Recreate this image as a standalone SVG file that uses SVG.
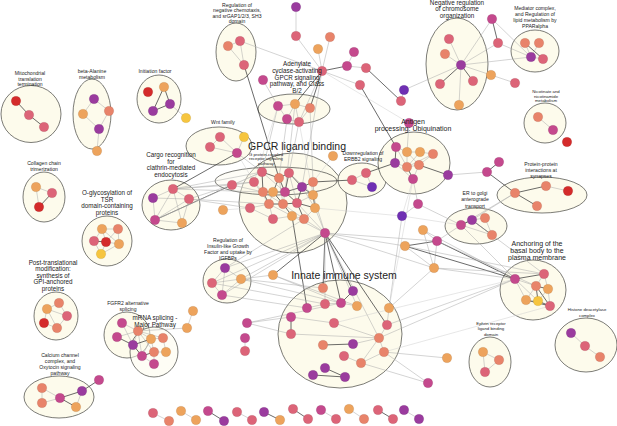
<svg xmlns="http://www.w3.org/2000/svg" width="617" height="426" viewBox="0 0 617 426">
<style>
.cl{fill:#fdfbec;stroke:#5a5a55;stroke-width:0.8}
.e{stroke:#a8a8a8;stroke-width:0.5}
.l{stroke:#cfcfcf;stroke-width:0.5}
.d{stroke:#3a3a3a;stroke-width:0.75}
circle{stroke:#000;stroke-opacity:0.18;stroke-width:0.4}
.r{fill:#d42b2b}.p{fill:#dc6478}.s{fill:#e8836a}.o{fill:#eda35c}.y{fill:#f6c53f}.m{fill:#c4498d}.u{fill:#9a3b9e}.v{fill:#6f2fb3}
text{font-family:"Liberation Sans",Arial,sans-serif;fill:#222;text-anchor:middle}
.f4{font-size:4.3px}.f5{font-size:5.1px}.f6{font-size:6.3px}.f7{font-size:7px}.f10{font-size:10.5px}
</style>
<rect width="617" height="426" fill="#fff"/>
<g id="cluster-areas">
<ellipse id="a-mito" class="cl" cx="31" cy="114" rx="30" ry="28.5"/>
<ellipse id="a-beta" class="cl" cx="92" cy="114" rx="19" ry="35"/>
<ellipse id="a-init" class="cl" cx="159" cy="99" rx="22" ry="24"/>
<ellipse id="a-coll" class="cl" cx="44" cy="197" rx="21" ry="25"/>
<ellipse id="a-oglyc" class="cl" cx="107" cy="241" rx="25" ry="25"/>
<ellipse id="a-cargo" class="cl" cx="171" cy="205" rx="29" ry="25"/>
<ellipse id="a-wnt" class="cl" cx="219" cy="146" rx="33" ry="19"/>
<ellipse id="a-chemo" class="cl" cx="236" cy="52" rx="20" ry="29"/>
<ellipse id="a-adcy" class="cl" cx="294" cy="109" rx="36" ry="15"/>
<ellipse id="a-gpcr" class="cl" cx="293" cy="203" rx="54" ry="50"/>
<ellipse id="a-gprot" class="cl" cx="276" cy="181" rx="61" ry="14" fill-opacity="0.4"/>
<ellipse id="a-erbb2" class="cl" cx="362" cy="180" rx="24" ry="17"/>
<ellipse id="a-antigen" class="cl" cx="414" cy="163" rx="36" ry="31"/>
<ellipse id="a-chrom" class="cl" cx="457" cy="64" rx="31" ry="46"/>
<ellipse id="a-med" class="cl" cx="535" cy="51" rx="24" ry="21"/>
<ellipse id="a-nico" class="cl" cx="545" cy="123" rx="21" ry="20"/>
<ellipse id="a-ppi" class="cl" cx="542" cy="195" rx="45" ry="18"/>
<ellipse id="a-er" class="cl" cx="476" cy="226" rx="31" ry="18"/>
<ellipse id="a-anch" class="cl" cx="533" cy="290" rx="33" ry="30"/>
<ellipse id="a-hdac" class="cl" cx="586" cy="345" rx="31" ry="27"/>
<ellipse id="a-eph" class="cl" cx="490" cy="362" rx="21" ry="25"/>
<ellipse id="a-innate" class="cl" cx="340" cy="334" rx="62" ry="54"/>
<ellipse id="a-igf" class="cl" cx="227" cy="281" rx="24" ry="22"/>
<ellipse id="a-gpi" class="cl" cx="56" cy="316" rx="22" ry="24"/>
<ellipse id="a-fgfr" class="cl" cx="127" cy="335" rx="23" ry="23"/>
<ellipse id="a-mrna" class="cl" cx="154" cy="352" rx="24" ry="25" fill-opacity="0.5"/>
<ellipse id="a-calc" class="cl" cx="59" cy="397" rx="35" ry="21"/>
</g>
<g id="connectors">
<!-- mito -->
<line class="d" x1="16" y1="101" x2="29" y2="115"/><line class="d" x1="29" y1="115" x2="44" y2="127"/>
<!-- beta -->
<line class="e" x1="94" y1="99" x2="83" y2="114"/><line class="e" x1="94" y1="99" x2="109" y2="111"/><line class="e" x1="83" y1="114" x2="99" y2="129"/><line class="e" x1="109" y1="111" x2="99" y2="129"/><line class="e" x1="99" y1="129" x2="97" y2="151"/>
<!-- init -->
<line class="d" x1="164" y1="87" x2="170" y2="104"/><line class="d" x1="164" y1="87" x2="153" y2="111"/><line class="d" x1="153" y1="111" x2="170" y2="104"/><line class="e" x1="170" y1="104" x2="186" y2="118"/>
<!-- collagen -->
<line class="e" x1="36" y1="187" x2="52" y2="193"/><line class="e" x1="36" y1="187" x2="39" y2="207"/><line class="d" x1="52" y1="193" x2="39" y2="207"/>
<!-- oglyc -->
<line class="e" x1="102" y1="229" x2="118" y2="229"/><line class="e" x1="102" y1="229" x2="94" y2="241"/><line class="e" x1="102" y1="229" x2="106" y2="242"/><line class="e" x1="118" y1="229" x2="106" y2="242"/><line class="e" x1="118" y1="229" x2="119" y2="244"/><line class="d" x1="94" y1="241" x2="106" y2="242"/><line class="e" x1="106" y1="242" x2="119" y2="244"/><line class="e" x1="94" y1="241" x2="101" y2="254"/><line class="e" x1="106" y1="242" x2="101" y2="254"/><line class="e" x1="119" y1="244" x2="101" y2="254"/><line class="e" x1="102" y1="229" x2="119" y2="244"/>
<!-- cargo -->
<line class="e" x1="173" y1="189" x2="153" y2="198"/><line class="e" x1="173" y1="189" x2="189" y2="199"/><line class="e" x1="173" y1="189" x2="155" y2="220"/><line class="e" x1="173" y1="189" x2="182" y2="223"/><line class="e" x1="153" y1="198" x2="155" y2="220"/><line class="e" x1="189" y1="199" x2="155" y2="220"/><line class="e" x1="189" y1="199" x2="182" y2="223"/><line class="e" x1="155" y1="220" x2="182" y2="223"/><line class="e" x1="153" y1="198" x2="189" y2="199"/>
<line class="d" x1="173" y1="189" x2="237" y2="153"/><line class="d" x1="155" y1="220" x2="232" y2="185"/>
<line class="e" x1="173" y1="189" x2="232" y2="185"/><line class="e" x1="173" y1="189" x2="254" y2="182"/><line class="e" x1="173" y1="189" x2="263" y2="192"/><line class="e" x1="173" y1="189" x2="262" y2="172"/><line class="e" x1="189" y1="199" x2="232" y2="185"/><line class="e" x1="189" y1="199" x2="250" y2="208"/><line class="e" x1="189" y1="199" x2="269" y2="204"/><line class="l" x1="155" y1="220" x2="262" y2="172"/>
<!-- wnt -->
<line class="e" x1="220" y1="137" x2="237" y2="153"/><line class="e" x1="210" y1="147" x2="237" y2="153"/><line class="e" x1="244" y1="137" x2="237" y2="153"/><line class="e" x1="220" y1="137" x2="210" y2="147"/><line class="e" x1="237" y1="153" x2="262" y2="172"/><line class="l" x1="237" y1="153" x2="254" y2="182"/>
<!-- chemotaxis -->
<line class="e" x1="228" y1="46" x2="240" y2="41"/><line class="e" x1="228" y1="46" x2="244" y2="65"/><line class="e" x1="240" y1="41" x2="244" y2="65"/><line class="e" x1="240" y1="41" x2="322" y2="71"/><line class="d" x1="244" y1="65" x2="279" y2="178"/>
<!-- adenylate -->
<line class="e" x1="278" y1="106" x2="295" y2="104"/><line class="e" x1="295" y1="104" x2="310" y2="108"/><line class="e" x1="278" y1="106" x2="287" y2="119"/><line class="e" x1="287" y1="119" x2="299" y2="122"/><line class="e" x1="295" y1="104" x2="287" y2="119"/><line class="e" x1="295" y1="104" x2="299" y2="122"/><line class="e" x1="310" y1="108" x2="299" y2="122"/><line class="e" x1="263" y1="80" x2="278" y2="106"/>
<line class="d" x1="322" y1="71" x2="295" y2="104"/><line class="d" x1="322" y1="71" x2="310" y2="108"/><line class="e" x1="322" y1="71" x2="299" y2="122"/>
<line class="e" x1="278" y1="106" x2="262" y2="172"/><line class="e" x1="287" y1="119" x2="279" y2="178"/><line class="e" x1="299" y1="122" x2="289" y2="173"/><line class="e" x1="310" y1="108" x2="313" y2="182"/><line class="e" x1="295" y1="104" x2="285" y2="192"/><line class="e" x1="322" y1="71" x2="302" y2="187"/><line class="l" x1="278" y1="106" x2="254" y2="182"/><line class="l" x1="299" y1="122" x2="313" y2="195"/>
<!-- top hub -->
<line class="e" x1="296" y1="7" x2="296" y2="36"/><line class="e" x1="296" y1="36" x2="322" y2="71"/><line class="e" x1="330" y1="37" x2="322" y2="71"/><line class="e" x1="318" y1="49" x2="322" y2="71"/><line class="d" x1="322" y1="71" x2="347" y2="66"/><line class="e" x1="347" y1="66" x2="354" y2="52"/><line class="e" x1="347" y1="66" x2="366" y2="68"/><line class="d" x1="366" y1="68" x2="401" y2="101"/><line class="e" x1="401" y1="101" x2="404" y2="90"/><line class="e" x1="322" y1="71" x2="360" y2="85"/><line class="d" x1="360" y1="85" x2="396" y2="147"/><line class="l" x1="322" y1="71" x2="409" y2="123"/>
<!-- gpcr internal -->
<line class="e" x1="232" y1="185" x2="254" y2="182"/><line class="e" x1="232" y1="185" x2="263" y2="192"/><line class="e" x1="232" y1="185" x2="262" y2="172"/>
<line class="d" x1="262" y1="172" x2="279" y2="178"/><line class="d" x1="262" y1="172" x2="263" y2="192"/><line class="e" x1="254" y1="182" x2="263" y2="192"/><line class="d" x1="279" y1="178" x2="289" y2="173"/><line class="d" x1="279" y1="178" x2="273" y2="192"/><line class="d" x1="279" y1="178" x2="285" y2="192"/><line class="d" x1="289" y1="173" x2="285" y2="192"/><line class="d" x1="289" y1="173" x2="302" y2="187"/><line class="d" x1="313" y1="182" x2="302" y2="187"/><line class="e" x1="313" y1="182" x2="313" y2="195"/><line class="d" x1="263" y1="192" x2="273" y2="192"/><line class="d" x1="263" y1="192" x2="269" y2="204"/><line class="d" x1="273" y1="192" x2="285" y2="192"/><line class="d" x1="273" y1="192" x2="283" y2="204"/><line class="d" x1="285" y1="192" x2="302" y2="187"/><line class="d" x1="285" y1="192" x2="297" y2="203"/><line class="d" x1="302" y1="187" x2="313" y2="195"/><line class="d" x1="302" y1="187" x2="297" y2="203"/><line class="d" x1="313" y1="195" x2="315" y2="208"/><line class="d" x1="269" y1="204" x2="283" y2="204"/><line class="e" x1="269" y1="204" x2="273" y2="219"/><line class="d" x1="283" y1="204" x2="297" y2="203"/><line class="d" x1="283" y1="204" x2="292" y2="216"/><line class="d" x1="297" y1="203" x2="315" y2="208"/><line class="d" x1="297" y1="203" x2="304" y2="219"/><line class="e" x1="315" y1="208" x2="304" y2="219"/><line class="e" x1="273" y1="219" x2="292" y2="216"/><line class="e" x1="292" y1="216" x2="304" y2="219"/><line class="e" x1="273" y1="192" x2="269" y2="204"/><line class="e" x1="285" y1="192" x2="283" y2="204"/><line class="e" x1="302" y1="187" x2="315" y2="208"/><line class="e" x1="313" y1="195" x2="297" y2="203"/><line class="e" x1="254" y1="182" x2="269" y2="204"/><line class="e" x1="250" y1="208" x2="269" y2="204"/><line class="e" x1="250" y1="208" x2="273" y2="219"/><line class="e" x1="279" y1="178" x2="283" y2="204"/><line class="e" x1="289" y1="173" x2="297" y2="203"/><line class="e" x1="313" y1="182" x2="315" y2="208"/><line class="e" x1="263" y1="192" x2="283" y2="204"/><line class="e" x1="262" y1="172" x2="285" y2="192"/><line class="e" x1="289" y1="173" x2="313" y2="195"/><line class="e" x1="269" y1="204" x2="292" y2="216"/><line class="e" x1="283" y1="204" x2="304" y2="219"/><line class="l" x1="223" y1="210" x2="250" y2="208"/><line class="l" x1="333" y1="156" x2="313" y2="182"/>
<line class="d" x1="313" y1="182" x2="352" y2="180"/>
<line class="e" x1="325" y1="233" x2="304" y2="219"/><line class="e" x1="325" y1="233" x2="315" y2="208"/><line class="e" x1="325" y1="233" x2="292" y2="216"/><line class="e" x1="325" y1="233" x2="297" y2="203"/><line class="e" x1="325" y1="233" x2="313" y2="195"/>
<line class="d" x1="292" y1="216" x2="307" y2="308"/>
<!-- hub C3 fan -->
<line class="e" x1="325" y1="233" x2="241" y2="279"/><line class="e" x1="325" y1="233" x2="225" y2="268"/><line class="e" x1="325" y1="233" x2="212" y2="283"/><line class="e" x1="325" y1="233" x2="222" y2="295"/><line class="d" x1="325" y1="233" x2="273" y2="275"/><line class="d" x1="325" y1="233" x2="323" y2="288"/><line class="d" x1="325" y1="233" x2="353" y2="291"/><line class="d" x1="325" y1="233" x2="341" y2="303"/><line class="e" x1="325" y1="233" x2="357" y2="306"/><line class="e" x1="325" y1="233" x2="325" y2="304"/><line class="d" x1="325" y1="233" x2="387" y2="325"/><line class="e" x1="325" y1="233" x2="379" y2="338"/><line class="e" x1="325" y1="233" x2="437" y2="241"/><line class="e" x1="325" y1="233" x2="434" y2="268"/><line class="e" x1="325" y1="233" x2="405" y2="246"/>
<!-- IGF -->
<line class="e" x1="225" y1="268" x2="212" y2="283"/><line class="e" x1="225" y1="268" x2="241" y2="279"/><line class="e" x1="212" y1="283" x2="241" y2="279"/><line class="e" x1="212" y1="283" x2="222" y2="295"/><line class="e" x1="241" y1="279" x2="222" y2="295"/><line class="e" x1="225" y1="268" x2="222" y2="295"/>
<line class="e" x1="241" y1="279" x2="273" y2="275"/><line class="e" x1="241" y1="279" x2="341" y2="303"/><line class="e" x1="241" y1="279" x2="323" y2="288"/><line class="e" x1="225" y1="268" x2="304" y2="219"/><line class="e" x1="212" y1="283" x2="325" y2="304"/><line class="e" x1="222" y1="295" x2="307" y2="308"/>
<line class="e" x1="273" y1="275" x2="341" y2="303"/><line class="e" x1="273" y1="275" x2="357" y2="306"/>
<!-- innate -->
<line class="d" x1="353" y1="291" x2="341" y2="303"/><line class="e" x1="341" y1="303" x2="357" y2="306"/><line class="e" x1="341" y1="303" x2="325" y2="304"/><line class="e" x1="325" y1="304" x2="307" y2="308"/><line class="d" x1="291" y1="317" x2="291" y2="334"/><line class="e" x1="291" y1="317" x2="247" y2="323"/><line class="e" x1="291" y1="334" x2="379" y2="338"/><line class="e" x1="247" y1="323" x2="341" y2="303"/><line class="e" x1="247" y1="323" x2="291" y2="334"/><line class="e" x1="245" y1="338" x2="245" y2="351"/><line class="d" x1="323" y1="345" x2="353" y2="344"/><line class="e" x1="353" y1="344" x2="379" y2="338"/><line class="e" x1="379" y1="338" x2="387" y2="325"/><line class="e" x1="387" y1="325" x2="389" y2="308"/><line class="e" x1="379" y1="338" x2="384" y2="352"/><line class="e" x1="344" y1="356" x2="361" y2="363"/><line class="e" x1="361" y1="363" x2="384" y2="352"/><line class="e" x1="361" y1="363" x2="379" y2="338"/><line class="d" x1="325" y1="368" x2="345" y2="377"/><line class="d" x1="313" y1="375" x2="345" y2="377"/><line class="e" x1="334" y1="323" x2="379" y2="338"/><line class="e" x1="291" y1="317" x2="334" y2="323"/>
<line class="e" x1="384" y1="352" x2="428" y2="383"/><line class="e" x1="384" y1="352" x2="447" y2="358"/><line class="e" x1="361" y1="363" x2="428" y2="383"/><line class="e" x1="389" y1="308" x2="402" y2="216"/><line class="e" x1="379" y1="338" x2="515" y2="279"/><line class="e" x1="387" y1="325" x2="515" y2="279"/><line class="l" x1="334" y1="323" x2="515" y2="279"/><line class="e" x1="389" y1="308" x2="434" y2="268"/><line class="l" x1="413" y1="179" x2="389" y2="308"/><line class="l" x1="315" y1="208" x2="402" y2="216"/><line class="l" x1="384" y1="352" x2="550" y2="306"/>
<!-- erbb2 -->
<line class="e" x1="352" y1="180" x2="366" y2="173"/><line class="e" x1="366" y1="173" x2="372" y2="187"/><line class="e" x1="352" y1="180" x2="372" y2="187"/><line class="d" x1="366" y1="173" x2="395" y2="163"/>
<!-- antigen -->
<line class="d" x1="396" y1="147" x2="395" y2="163"/><line class="e" x1="395" y1="163" x2="407" y2="167"/><line class="d" x1="407" y1="167" x2="413" y2="179"/><line class="e" x1="396" y1="147" x2="407" y2="167"/><line class="e" x1="420" y1="152" x2="407" y2="167"/><line class="e" x1="407" y1="152" x2="419" y2="165"/><line class="e" x1="433" y1="154" x2="419" y2="165"/><line class="e" x1="407" y1="167" x2="419" y2="165"/><line class="d" x1="419" y1="165" x2="448" y2="175"/><line class="e" x1="395" y1="163" x2="413" y2="179"/><line class="e" x1="407" y1="152" x2="420" y2="152"/><line class="e" x1="420" y1="152" x2="433" y2="154"/><line class="e" x1="419" y1="165" x2="413" y2="179"/><line class="e" x1="407" y1="152" x2="407" y2="167"/><line class="e" x1="433" y1="154" x2="407" y2="167"/><line class="e" x1="396" y1="147" x2="407" y2="152"/><line class="e" x1="409" y1="123" x2="407" y2="152"/>
<line class="e" x1="448" y1="175" x2="487" y2="172"/><line class="d" x1="487" y1="172" x2="499" y2="162"/><line class="d" x1="487" y1="172" x2="515" y2="193"/><line class="e" x1="413" y1="179" x2="418" y2="204"/><line class="e" x1="418" y1="204" x2="402" y2="216"/><line class="l" x1="413" y1="179" x2="402" y2="216"/>
<!-- chromosome -->
<line class="e" x1="461" y1="65" x2="404" y2="90"/><line class="e" x1="461" y1="65" x2="449" y2="39"/><line class="e" x1="461" y1="65" x2="445" y2="54"/><line class="d" x1="461" y1="65" x2="440" y2="84"/><line class="d" x1="461" y1="65" x2="473" y2="81"/><line class="e" x1="461" y1="65" x2="459" y2="105"/><line class="e" x1="461" y1="65" x2="491" y2="75"/><line class="e" x1="461" y1="65" x2="492" y2="19"/><line class="e" x1="461" y1="65" x2="498" y2="43"/><line class="e" x1="461" y1="65" x2="531" y2="57"/><line class="e" x1="491" y1="75" x2="515" y2="83"/><line class="d" x1="492" y1="19" x2="498" y2="43"/><line class="e" x1="492" y1="19" x2="531" y2="57"/><line class="e" x1="498" y1="43" x2="531" y2="57"/>
<!-- mediator -->
<line class="e" x1="525" y1="43" x2="531" y2="57"/><line class="d" x1="525" y1="43" x2="543" y2="59"/><line class="e" x1="539" y1="43" x2="531" y2="57"/><line class="e" x1="531" y1="57" x2="543" y2="59"/>
<!-- nicotinate -->
<line class="e" x1="538" y1="117" x2="553" y2="130"/>
<!-- ppi -->
<line class="d" x1="515" y1="193" x2="546" y2="186"/><line class="e" x1="546" y1="186" x2="568" y2="191"/><line class="d" x1="515" y1="193" x2="537" y2="206"/><line class="e" x1="515" y1="193" x2="461" y2="225"/><line class="e" x1="515" y1="193" x2="472" y2="220"/>
<!-- er golgi -->
<line class="d" x1="461" y1="225" x2="472" y2="220"/><line class="e" x1="472" y1="220" x2="485" y2="218"/><line class="d" x1="472" y1="220" x2="492" y2="235"/><line class="e" x1="461" y1="225" x2="492" y2="235"/><line class="e" x1="485" y1="218" x2="492" y2="235"/>
<line class="e" x1="461" y1="225" x2="418" y2="204"/><line class="e" x1="461" y1="225" x2="437" y2="241"/><line class="e" x1="461" y1="225" x2="515" y2="279"/><line class="e" x1="472" y1="220" x2="544" y2="274"/><line class="l" x1="461" y1="225" x2="402" y2="216"/>
<!-- mid right -->
<line class="e" x1="423" y1="230" x2="437" y2="241"/><line class="e" x1="437" y1="241" x2="434" y2="268"/><line class="d" x1="405" y1="246" x2="437" y2="241"/><line class="e" x1="405" y1="246" x2="434" y2="268"/><line class="e" x1="423" y1="230" x2="434" y2="268"/><line class="d" x1="437" y1="241" x2="515" y2="279"/><line class="d" x1="405" y1="246" x2="515" y2="279"/><line class="e" x1="434" y1="268" x2="515" y2="279"/><line class="e" x1="434" y1="268" x2="544" y2="274"/><line class="e" x1="423" y1="230" x2="515" y2="279"/><line class="e" x1="405" y1="246" x2="544" y2="274"/><line class="e" x1="437" y1="241" x2="536" y2="286"/>
<!-- anchoring -->
<line class="d" x1="515" y1="279" x2="544" y2="274"/><line class="e" x1="515" y1="279" x2="536" y2="286"/><line class="e" x1="515" y1="279" x2="526" y2="300"/><line class="e" x1="515" y1="279" x2="538" y2="301"/><line class="d" x1="536" y1="286" x2="548" y2="289"/><line class="e" x1="536" y1="286" x2="526" y2="300"/><line class="d" x1="536" y1="286" x2="538" y2="301"/><line class="d" x1="536" y1="286" x2="550" y2="306"/><line class="e" x1="544" y1="274" x2="548" y2="289"/><line class="e" x1="544" y1="274" x2="536" y2="286"/><line class="e" x1="548" y1="289" x2="550" y2="306"/><line class="d" x1="538" y1="301" x2="550" y2="306"/><line class="e" x1="526" y1="300" x2="538" y2="301"/><line class="d" x1="526" y1="300" x2="550" y2="306"/><line class="e" x1="538" y1="301" x2="548" y2="289"/>
<!-- histone, ephrin -->
<line class="e" x1="571" y1="333" x2="585" y2="346"/><line class="e" x1="585" y1="346" x2="600" y2="357"/>
<line class="e" x1="483" y1="352" x2="499" y2="360"/><line class="e" x1="483" y1="352" x2="485" y2="372"/><line class="e" x1="499" y1="360" x2="485" y2="372"/>
<!-- gpi -->
<line class="e" x1="47" y1="309" x2="59" y2="303"/><line class="e" x1="47" y1="309" x2="67" y2="316"/><line class="e" x1="47" y1="309" x2="44" y2="323"/><line class="e" x1="47" y1="309" x2="57" y2="328"/><line class="e" x1="59" y1="303" x2="67" y2="316"/><line class="e" x1="44" y1="323" x2="57" y2="328"/><line class="e" x1="67" y1="316" x2="57" y2="328"/>
<!-- fgfr / mrna -->
<line class="e" x1="122" y1="323" x2="138" y2="331"/><line class="d" x1="117" y1="337" x2="133" y2="345"/><line class="e" x1="138" y1="331" x2="151" y2="339"/><line class="e" x1="138" y1="331" x2="133" y2="345"/><line class="e" x1="138" y1="331" x2="142" y2="356"/><line class="e" x1="138" y1="331" x2="154" y2="352"/><line class="e" x1="138" y1="331" x2="163" y2="338"/><line class="e" x1="151" y1="339" x2="163" y2="338"/><line class="e" x1="151" y1="339" x2="154" y2="352"/><line class="e" x1="151" y1="339" x2="142" y2="356"/><line class="d" x1="133" y1="345" x2="142" y2="356"/><line class="e" x1="142" y1="356" x2="154" y2="364"/><line class="e" x1="154" y1="352" x2="166" y2="352"/><line class="e" x1="154" y1="352" x2="154" y2="364"/><line class="e" x1="163" y1="338" x2="166" y2="352"/><line class="e" x1="117" y1="337" x2="138" y2="331"/><line class="e" x1="138" y1="331" x2="187" y2="328"/><line class="e" x1="193" y1="311" x2="187" y2="328"/><line class="d" x1="133" y1="345" x2="151" y2="339"/><line class="e" x1="122" y1="323" x2="133" y2="345"/><line class="d" x1="142" y1="356" x2="154" y2="352"/>
<!-- calcium -->
<line class="e" x1="42" y1="388" x2="60" y2="398"/><line class="e" x1="42" y1="403" x2="60" y2="398"/><line class="d" x1="60" y1="398" x2="82" y2="391"/><line class="d" x1="60" y1="398" x2="76" y2="407"/><line class="d" x1="82" y1="391" x2="99" y2="380"/><line class="e" x1="42" y1="388" x2="42" y2="403"/><line class="e" x1="82" y1="391" x2="76" y2="407"/>
<!-- bottom pairs -->
<line class="e" x1="153" y1="413" x2="169" y2="421"/><line class="e" x1="181" y1="411" x2="196" y2="420"/><line class="d" x1="208" y1="411" x2="224" y2="421"/><line class="e" x1="237" y1="412" x2="252" y2="420"/><line class="d" x1="264" y1="412" x2="280" y2="420"/><line class="d" x1="293" y1="409" x2="308" y2="419"/><line class="e" x1="321" y1="410" x2="336" y2="419"/><line class="e" x1="349" y1="409" x2="364" y2="419"/><line class="d" x1="378" y1="410" x2="393" y2="419"/><line class="e" x1="404" y1="410" x2="419" y2="419"/>
</g>
<g id="mito"><circle class="r" cx="16" cy="101" r="4.8"/><circle class="p" cx="29" cy="115" r="4.8"/><circle class="p" cx="44" cy="127" r="4.8"/>
<text class="f5" x="30" y="75">Mitochondrial</text><text class="f5" x="30" y="80.5">translation</text><text class="f5" x="30" y="86">termination</text></g>
<g id="beta"><circle class="u" cx="94" cy="99" r="4.8"/><circle class="o" cx="83" cy="114" r="4.8"/><circle class="s" cx="109" cy="111" r="4.8"/><circle class="u" cx="99" cy="129" r="4.8"/><circle class="o" cx="97" cy="151" r="4.8"/>
<text class="f5" x="92" y="73">beta-Alanine</text><text class="f5" x="92" y="78.5">metabolism</text></g>
<g id="init"><circle class="r" cx="148" cy="92" r="4.8"/><circle class="o" cx="164" cy="87" r="4.8"/><circle class="u" cx="170" cy="104" r="4.8"/><circle class="u" cx="153" cy="111" r="4.8"/><circle class="y" cx="186" cy="118" r="4.8"/>
<text class="f5" x="155" y="73">Initiation factor</text></g>
<g id="collagen"><circle class="o" cx="36" cy="187" r="4.8"/><circle class="p" cx="52" cy="193" r="4.8"/><circle class="r" cx="39" cy="207" r="4.8"/>
<text class="f5" x="44" y="165">Collagen chain</text><text class="f5" x="44" y="170.5">trimerization</text></g>
<g id="oglyc"><circle class="o" cx="102" cy="229" r="4.8"/><circle class="s" cx="118" cy="229" r="4.8"/><circle class="p" cx="94" cy="241" r="4.8"/><circle class="r" cx="106" cy="242" r="4.8"/><circle class="o" cx="119" cy="244" r="4.8"/><circle class="y" cx="101" cy="254" r="4.8"/>
<text class="f6" x="107" y="195">O-glycosylation of</text><text class="f6" x="107" y="201.5">TSR</text><text class="f6" x="107" y="208">domain-containing</text><text class="f6" x="107" y="214.5">proteins</text></g>
<g id="cargo"><circle class="p" cx="173" cy="189" r="4.8"/><circle class="u" cx="153" cy="198" r="4.8"/><circle class="p" cx="189" cy="199" r="4.8"/><circle class="m" cx="155" cy="220" r="4.8"/><circle class="o" cx="182" cy="223" r="4.8"/>
<text class="f6" x="171" y="157">Cargo recognition</text><text class="f6" x="171" y="163.5">for</text><text class="f6" x="171" y="170">clathrin-mediated</text><text class="f6" x="171" y="176.5">endocytosis</text></g>
<g id="wnt"><circle class="p" cx="220" cy="137" r="4.8"/><circle class="y" cx="244" cy="137" r="4.8"/><circle class="p" cx="210" cy="147" r="4.8"/><circle class="m" cx="237" cy="153" r="4.8"/>
<text class="f5" x="223" y="124">Wnt family</text></g>
<g id="chemotaxis"><circle class="s" cx="228" cy="46" r="4.8"/><circle class="p" cx="240" cy="41" r="4.8"/><circle class="p" cx="244" cy="65" r="4.8"/>
<text class="f5" x="237" y="7">Regulation of</text><text class="f5" x="237" y="12.3">negative chemotaxis,</text><text class="f5" x="237" y="17.6">and srGAP1/2/3, SH3</text><text class="f5" x="237" y="22.9">domain</text></g>
<g id="tophub"><circle class="u" cx="296" cy="7" r="4.8"/><circle class="p" cx="296" cy="36" r="4.8"/><circle class="s" cx="330" cy="37" r="4.8"/><circle class="o" cx="318" cy="49" r="4.8"/><circle class="p" cx="322" cy="71" r="4.8"/><circle class="m" cx="347" cy="66" r="4.8"/><circle class="m" cx="354" cy="52" r="4.8"/><circle class="p" cx="366" cy="68" r="4.8"/><circle class="p" cx="360" cy="85" r="4.8"/><circle class="v" cx="404" cy="90" r="4.8"/><circle class="p" cx="401" cy="101" r="4.8"/><circle class="m" cx="263" cy="80" r="4.8"/></g>
<g id="adenylate"><circle class="m" cx="278" cy="106" r="4.8"/><circle class="o" cx="295" cy="104" r="4.8"/><circle class="s" cx="310" cy="108" r="4.8"/><circle class="m" cx="287" cy="119" r="4.8"/><circle class="p" cx="299" cy="122" r="4.8"/>
<text class="f6" x="297" y="66">Adenylate</text><text class="f6" x="297" y="72.8">cyclase-activating</text><text class="f6" x="297" y="79.6">GPCR signaling</text><text class="f6" x="297" y="86.4">pathway, and Class</text><text class="f6" x="297" y="93.2">B/2</text></g>
<g id="gpcr"><circle class="p" cx="232" cy="185" r="4.8"/><circle class="p" cx="262" cy="172" r="4.8"/><circle class="p" cx="254" cy="182" r="4.8"/><circle class="s" cx="279" cy="178" r="4.8"/><circle class="p" cx="289" cy="173" r="4.8"/><circle class="s" cx="313" cy="182" r="4.8"/><circle class="s" cx="263" cy="192" r="4.8"/><circle class="o" cx="273" cy="192" r="4.8"/><circle class="m" cx="285" cy="192" r="4.8"/><circle class="u" cx="302" cy="187" r="4.8"/><circle class="o" cx="313" cy="195" r="4.8"/><circle class="s" cx="269" cy="204" r="4.8"/><circle class="s" cx="283" cy="204" r="4.8"/><circle class="p" cx="297" cy="203" r="4.8"/><circle class="o" cx="315" cy="208" r="4.8"/><circle class="p" cx="250" cy="208" r="4.8"/><circle class="p" cx="273" cy="219" r="4.8"/><circle class="o" cx="292" cy="216" r="4.8"/><circle class="s" cx="304" cy="219" r="4.8"/><circle class="o" cx="223" cy="210" r="4.8"/><circle class="o" cx="333" cy="156" r="4.8"/><circle class="m" cx="325" cy="233" r="4.8"/>
<text class="f10" x="297" y="150">GPCR ligand binding</text><text class="f4" x="266" y="156">G protein-coupled</text><text class="f4" x="266" y="160.3">receptor signaling</text><text class="f4" x="266" y="164.6">pathway</text></g>
<g id="erbb2"><circle class="p" cx="352" cy="180" r="4.8"/><circle class="p" cx="366" cy="173" r="4.8"/><circle class="v" cx="372" cy="187" r="4.8"/>
<text class="f5" x="363" y="155">Downregulation of</text><text class="f5" x="363" y="160.5">ERBB2 signaling</text></g>
<g id="antigen"><circle class="m" cx="409" cy="123" r="4.8"/><circle class="m" cx="396" cy="147" r="4.8"/><circle class="o" cx="407" cy="152" r="4.8"/><circle class="o" cx="420" cy="152" r="4.8"/><circle class="s" cx="433" cy="154" r="4.8"/><circle class="u" cx="395" cy="163" r="4.8"/><circle class="s" cx="407" cy="167" r="4.8"/><circle class="s" cx="419" cy="165" r="4.8"/><circle class="m" cx="413" cy="179" r="4.8"/><circle class="u" cx="448" cy="175" r="4.8"/><circle class="m" cx="487" cy="172" r="4.8"/><circle class="m" cx="499" cy="162" r="4.8"/>
<text class="f7" x="413" y="124">Antigen</text><text class="f7" x="413" y="131">processing: Ubiquination</text></g>
<g id="chromosome"><circle class="p" cx="449" cy="39" r="4.8"/><circle class="s" cx="445" cy="54" r="4.8"/><circle class="u" cx="461" cy="65" r="4.8"/><circle class="p" cx="440" cy="84" r="4.8"/><circle class="p" cx="473" cy="81" r="4.8"/><circle class="o" cx="459" cy="105" r="4.8"/><circle class="o" cx="491" cy="75" r="4.8"/><circle class="p" cx="515" cy="83" r="4.8"/><circle class="m" cx="492" cy="19" r="4.8"/><circle class="p" cx="498" cy="43" r="4.8"/>
<text class="f6" x="457" y="5">Negative regulation</text><text class="f6" x="457" y="11.3">of chromosome</text><text class="f6" x="457" y="17.6">organization</text></g>
<g id="mediator"><circle class="s" cx="525" cy="43" r="4.8"/><circle class="s" cx="539" cy="43" r="4.8"/><circle class="u" cx="531" cy="57" r="4.8"/><circle class="p" cx="543" cy="59" r="4.8"/>
<text class="f5" x="535" y="9.5">Mediator complex,</text><text class="f5" x="535" y="15.5">and Regulation of</text><text class="f5" x="535" y="21.5">lipid metabolism by</text><text class="f5" x="535" y="27.5">PPARalpha</text></g>
<g id="nicotinate"><circle class="s" cx="538" cy="117" r="4.8"/><circle class="m" cx="553" cy="130" r="4.8"/><circle class="r" cx="567" cy="142" r="4.8"/>
<text class="f4" x="546" y="93">Nicotinate and</text><text class="f4" x="546" y="97.6">nicotinamide</text><text class="f4" x="546" y="102.2">metabolism</text></g>
<g id="ppi"><circle class="s" cx="515" cy="193" r="4.8"/><circle class="s" cx="546" cy="186" r="4.8"/><circle class="r" cx="568" cy="191" r="4.8"/><circle class="s" cx="537" cy="206" r="4.8"/>
<text class="f5" x="541" y="165.5">Protein-protein</text><text class="f5" x="541" y="171.5">interactions at</text><text class="f5" x="541" y="177.5">synapses</text></g>
<g id="ergolgi"><circle class="m" cx="461" cy="225" r="4.8"/><circle class="u" cx="472" cy="220" r="4.8"/><circle class="s" cx="485" cy="218" r="4.8"/><circle class="s" cx="492" cy="235" r="4.8"/>
<text class="f5" x="475" y="194.5">ER to golgi</text><text class="f5" x="475" y="201">anterograde</text><text class="f5" x="475" y="207.5">transport</text></g>
<g id="midright"><circle class="m" cx="418" cy="204" r="4.8"/><circle class="v" cx="402" cy="216" r="4.8"/><circle class="o" cx="423" cy="230" r="4.8"/><circle class="m" cx="437" cy="241" r="4.8"/><circle class="o" cx="405" cy="246" r="4.8"/><circle class="o" cx="434" cy="268" r="4.8"/><circle class="o" cx="447" cy="358" r="4.8"/><circle class="m" cx="428" cy="383" r="4.8"/></g>
<g id="anchoring"><circle class="m" cx="515" cy="279" r="4.8"/><circle class="p" cx="544" cy="274" r="4.8"/><circle class="s" cx="536" cy="286" r="4.8"/><circle class="o" cx="548" cy="289" r="4.8"/><circle class="o" cx="526" cy="300" r="4.8"/><circle class="y" cx="538" cy="301" r="4.8"/><circle class="p" cx="550" cy="306" r="4.8"/>
<text class="f7" x="537" y="245.5">Anchoring of the</text><text class="f7" x="537" y="252.5">basal body to the</text><text class="f7" x="537" y="259.5">plasma membrane</text></g>
<g id="histone"><circle class="u" cx="571" cy="333" r="4.8"/><circle class="p" cx="585" cy="346" r="4.8"/><circle class="s" cx="600" cy="357" r="4.8"/>
<text class="f4" x="587" y="311">Histone deacetylase</text><text class="f4" x="587" y="316.5">complex</text></g>
<g id="ephrin"><circle class="o" cx="483" cy="352" r="4.8"/><circle class="s" cx="499" cy="360" r="4.8"/><circle class="p" cx="485" cy="372" r="4.8"/>
<text class="f4" x="491" y="325">Ephrin receptor</text><text class="f4" x="491" y="330.3">ligand binding</text><text class="f4" x="491" y="335.6">domain</text></g>
<g id="innate"><circle class="s" cx="323" cy="288" r="4.8"/><circle class="u" cx="353" cy="291" r="4.8"/><circle class="m" cx="341" cy="303" r="4.8"/><circle class="o" cx="357" cy="306" r="4.8"/><circle class="p" cx="325" cy="304" r="4.8"/><circle class="m" cx="307" cy="308" r="4.8"/><circle class="m" cx="291" cy="317" r="4.8"/><circle class="p" cx="334" cy="323" r="4.8"/><circle class="p" cx="291" cy="334" r="4.8"/><circle class="o" cx="389" cy="308" r="4.8"/><circle class="p" cx="387" cy="325" r="4.8"/><circle class="s" cx="379" cy="338" r="4.8"/><circle class="s" cx="384" cy="352" r="4.8"/><circle class="s" cx="323" cy="345" r="4.8"/><circle class="u" cx="353" cy="344" r="4.8"/><circle class="p" cx="344" cy="356" r="4.8"/><circle class="s" cx="361" cy="363" r="4.8"/><circle class="u" cx="325" cy="368" r="4.8"/><circle class="u" cx="313" cy="375" r="4.8"/><circle class="u" cx="345" cy="377" r="4.8"/><circle class="m" cx="247" cy="323" r="4.8"/><circle class="m" cx="245" cy="338" r="4.8"/><circle class="p" cx="245" cy="351" r="4.8"/><circle class="o" cx="273" cy="275" r="4.8"/>
<text class="f10" x="344" y="279">Innate immune system</text></g>
<g id="igf"><circle class="u" cx="225" cy="268" r="4.8"/><circle class="p" cx="212" cy="283" r="4.8"/><circle class="o" cx="241" cy="279" r="4.8"/><circle class="m" cx="222" cy="295" r="4.8"/>
<text class="f5" x="228" y="241.5">Regulation of</text><text class="f5" x="228" y="247.5">Insulin-like Growth</text><text class="f5" x="228" y="253.5">Factor and uptake by</text><text class="f5" x="228" y="259.5">IGFBPs</text></g>
<g id="gpi"><circle class="o" cx="47" cy="309" r="4.8"/><circle class="s" cx="59" cy="303" r="4.8"/><circle class="p" cx="67" cy="316" r="4.8"/><circle class="r" cx="44" cy="323" r="4.8"/><circle class="s" cx="57" cy="328" r="4.8"/>
<text class="f6" x="53" y="264.5">Post-translational</text><text class="f6" x="53" y="271">modification:</text><text class="f6" x="53" y="277.5">synthesis of</text><text class="f6" x="53" y="284">GPI-anchored</text><text class="f6" x="53" y="290.5">proteins</text></g>
<g id="splicing"><circle class="m" cx="122" cy="323" r="4.8"/><circle class="m" cx="117" cy="337" r="4.8"/><circle class="s" cx="138" cy="331" r="4.8"/><circle class="o" cx="151" cy="339" r="4.8"/><circle class="s" cx="163" cy="338" r="4.8"/><circle class="u" cx="133" cy="345" r="4.8"/><circle class="m" cx="142" cy="356" r="4.8"/><circle class="s" cx="154" cy="352" r="4.8"/><circle class="o" cx="166" cy="352" r="4.8"/><circle class="m" cx="154" cy="364" r="4.8"/><circle class="o" cx="193" cy="311" r="4.8"/><circle class="o" cx="187" cy="328" r="4.8"/>
<text class="f5" x="128" y="305">FGFR2 alternative</text><text class="f5" x="128" y="311">splicing</text><text class="f6" x="155" y="320">mRNA splicing -</text><text class="f6" x="155" y="326.5">Major Pathway</text></g>
<g id="calcium"><circle class="s" cx="42" cy="388" r="4.8"/><circle class="s" cx="42" cy="403" r="4.8"/><circle class="m" cx="60" cy="398" r="4.8"/><circle class="u" cx="82" cy="391" r="4.8"/><circle class="o" cx="76" cy="407" r="4.8"/><circle class="m" cx="99" cy="380" r="4.8"/>
<text class="f5" x="60" y="357">Calcium channel</text><text class="f5" x="60" y="363">complex, and</text><text class="f5" x="60" y="369">Oxytocin signaling</text><text class="f5" x="60" y="375">pathway</text></g>
<g id="pairs"><circle class="p" cx="153" cy="413" r="4.8"/><circle class="s" cx="169" cy="421" r="4.8"/><circle class="o" cx="181" cy="411" r="4.8"/><circle class="o" cx="196" cy="420" r="4.8"/><circle class="m" cx="208" cy="411" r="4.8"/><circle class="u" cx="224" cy="421" r="4.8"/><circle class="p" cx="237" cy="412" r="4.8"/><circle class="p" cx="252" cy="420" r="4.8"/><circle class="u" cx="264" cy="412" r="4.8"/><circle class="o" cx="280" cy="420" r="4.8"/><circle class="p" cx="293" cy="409" r="4.8"/><circle class="p" cx="308" cy="419" r="4.8"/><circle class="m" cx="321" cy="410" r="4.8"/><circle class="p" cx="336" cy="419" r="4.8"/><circle class="o" cx="349" cy="409" r="4.8"/><circle class="s" cx="364" cy="419" r="4.8"/><circle class="p" cx="378" cy="410" r="4.8"/><circle class="p" cx="393" cy="419" r="4.8"/><circle class="u" cx="404" cy="410" r="4.8"/><circle class="u" cx="419" cy="419" r="4.8"/></g>
</svg>
